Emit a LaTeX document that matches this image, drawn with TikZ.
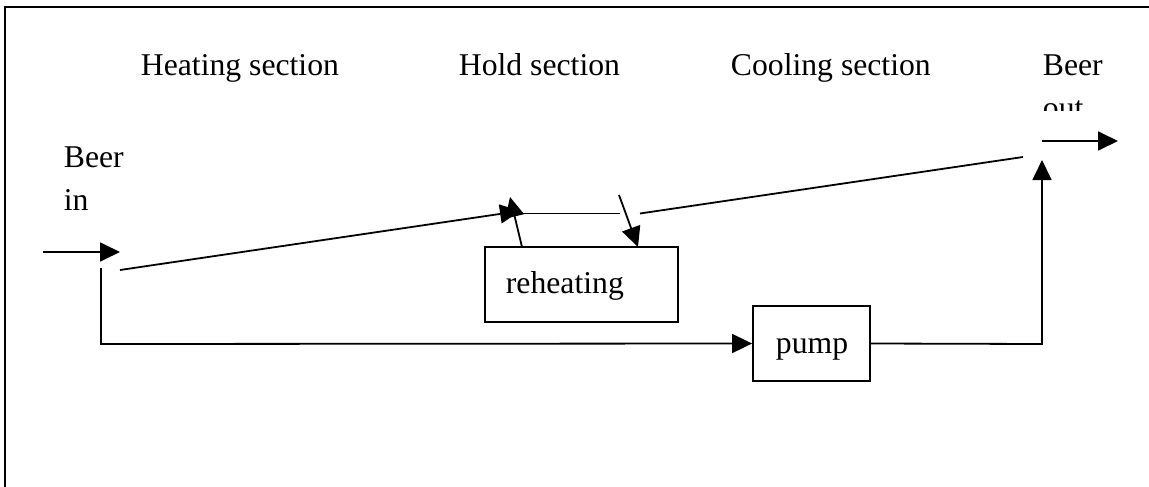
\documentclass[tikz,border=0pt]{standalone}
\usepackage{fontspec}
\setmainfont{Liberation Serif}
\usetikzlibrary{arrows.meta}

\begin{document}
\begin{tikzpicture}[x=1pt,y=-1pt,
  line width=1.8pt,
  lbl/.style={anchor=base west,inner sep=0pt,font=\fontsize{31.7}{38}\selectfont},
  unit/.style={draw,rectangle,inner sep=0pt},
  flow/.style={-{Triangle[length=20pt,width=19pt]}}]
\useasboundingbox (0,0) rectangle (1149,487);

% page frame
\draw (5,487) -- (5,7) -- (1149,7);

% section headings
\node[lbl] (heat) at (140,75) {Heating section};
\node[lbl] (hold) at (458,75) {Hold section};
\node[lbl] (cool) at (730,75) {Cooling section};
\node[lbl] (beerout) at (1042,75) {Beer};
\begin{scope}
  \clip (1000,80) rectangle (1149,110);
  \node[lbl] (out) at (1042,118) {out};
\end{scope}
\node[lbl] (beerin) at (63,167) {Beer};
\node[lbl] (in) at (63,210) {in};

% process units
\node[unit,minimum width=193pt,minimum height=75pt] (reheat) at (581.5,284.5) {};
\node[lbl] (reheattxt) at (505,293) {reheating};
\node[unit,minimum width=117pt,minimum height=75pt] (pump) at (811.5,343.5) {};
\node[lbl] (pumptxt) at (775,353) {pump};

% junction points
\coordinate (inS) at (43,252);
\coordinate (inE) at (120,252);
\coordinate (d1s) at (120,270);
\coordinate (d1e) at (520,211);
\coordinate (h1) at (523,213.5);
\coordinate (h2) at (620,213.5);
\coordinate (upS) at (522,247);
\coordinate (upE) at (510,197);
\coordinate (dnS) at (619,195);
\coordinate (dnE) at (638,247);
\coordinate (d2s) at (640,213.5);
\coordinate (d2e) at (1023,157);
\coordinate (byS) at (101,268);
\coordinate (byC) at (101,344);
\coordinate (rtC) at (1042,344);
\coordinate (rtE) at (1042,160);
\coordinate (outS) at (1042,141);
\coordinate (outE) at (1118,141);

% beer in
\draw[flow] (inS) -- (inE);
% heating line to hold section
\draw[flow] (d1s) -- (d1e);
\draw (h1) -- (h2);
\draw[flow] (upS) -- (upE);
\draw[flow] (dnS) -- (dnE);
% cooling line
\draw (d2s) -- (d2e);
% bypass through the pump
\draw[flow] (byS) -- (byC) -- (pump.west);
\draw[flow] (pump.east) -- (rtC) -- (rtE);
% beer out
\draw[flow] (outS) -- (outE);
\end{tikzpicture}
\end{document}
